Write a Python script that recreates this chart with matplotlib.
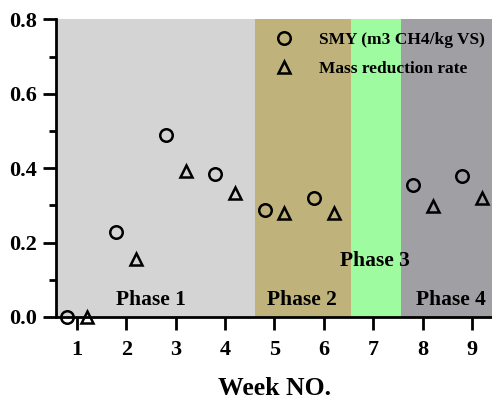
import matplotlib
matplotlib.use("Agg")
import matplotlib.pyplot as plt
from matplotlib.ticker import MultipleLocator
import numpy as np

weeks = [1, 2, 3, 4, 5, 6, 8, 9]
smy = [0.0, 0.229, 0.489, 0.385, 0.288, 0.320, 0.355, 0.380]
mass_red = [0.0, 0.156, 0.393, 0.333, 0.280, 0.280, 0.298, 0.320]
phase_names = ["Phase 1", "Phase 2", "Phase 3", "Phase 4"]
phase_bounds = [(0.575, 4.6), (4.6, 6.55), (6.55, 7.56), (7.56, 9.5)]
phase_colors = ["#d4d4d4", "#bfb37b", "#9ffb9f", "#a09fa4"]
phase_label_pos = [(2.5, 0.045), (5.55, 0.045), (7.03, 0.15), (8.57, 0.045)]
xticks = [1, 2, 3, 4, 5, 6, 7, 8, 9]
yticks = [0.0, 0.2, 0.4, 0.6, 0.8]

plt.rcParams['font.family'] = ['Liberation Serif', 'DejaVu Serif']
plt.rcParams['font.weight'] = 'bold'

fig = plt.figure(figsize=(4.92, 4.05), dpi=100)
ax = fig.add_axes([56/492, 88/405, 1 - 56/492, (317-19.5)/405])

for (a, b), c in zip(phase_bounds, phase_colors):
    ax.axvspan(a, b, ymin=0, ymax=1, color=c, lw=0, zorder=0)

for name, (px, py) in zip(phase_names, phase_label_pos):
    ax.text(px, py, name, ha='center', va='center', fontsize=15.5, fontweight='bold', zorder=3)

x = np.array(weeks, dtype=float)
ax.plot(x - 0.2, smy, linestyle='none', marker='o', ms=9, mfc='none', mec='black', mew=1.8,
        label='SMY (m3 CH4/kg VS)', zorder=4, clip_on=False)
ax.plot(x + 0.2, mass_red, linestyle='none', marker='^', ms=9, mfc='none', mec='black', mew=1.8,
        label='Mass reduction rate', zorder=4, clip_on=False)

ax.set_xlim(0.575, 9.405)
ax.set_ylim(0, 0.8)
ax.set_xticks(xticks)
ax.set_yticks(yticks)
ax.set_yticklabels([f"{v:.1f}" for v in yticks])
ax.yaxis.set_minor_locator(MultipleLocator(0.1))

for s in ['top', 'right']:
    ax.spines[s].set_visible(False)
for s in ['left', 'bottom']:
    ax.spines[s].set_linewidth(2.0)
    ax.spines[s].set_zorder(5)

ax.tick_params(axis='both', which='major', length=9.5, width=2, labelsize=16, pad=4)
ax.tick_params(axis='x', which='major', pad=7)
ax.tick_params(axis='y', which='minor', length=5, width=2)
for lab in ax.get_xticklabels() + ax.get_yticklabels():
    lab.set_fontweight('bold')

ax.set_xlabel('Week NO.', fontsize=18.5, fontweight='bold', labelpad=12)

leg = ax.legend(loc='upper left', bbox_to_anchor=(0.455, 1.0), frameon=False,
                fontsize=12.5, handletextpad=1.0, borderaxespad=0.3, labelspacing=0.75)
for t in leg.get_texts():
    t.set_fontweight('bold')

fig.savefig('out.png', dpi=100)
